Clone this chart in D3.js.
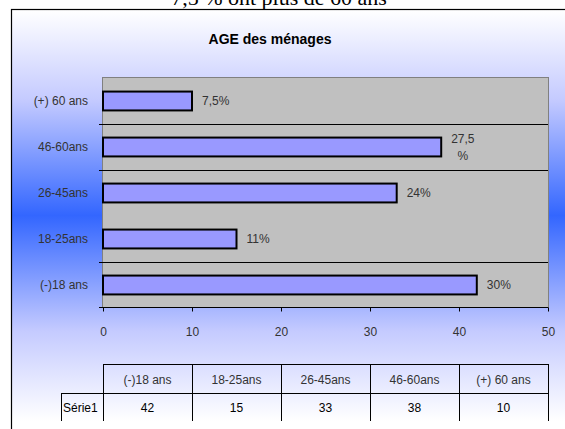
<!DOCTYPE html>
<html>
<head>
<meta charset="utf-8">
<script src="https://cdn.jsdelivr.net/npm/d3@7"></script>
<style>
  html, body { margin: 0; padding: 0; background: #fff; }
  svg { display: block; }
</style>
</head>
<body>
<svg id="chart" width="565" height="429"></svg>
<script>
// data (table order, bottom bar first)
const categories = ['(-)18 ans', '18-25ans', '26-45ans', '46-60ans', '(+) 60 ans'];
const values = [42, 15, 33, 38, 10];
const valueLabels = ['30%', '11%', '24%', '27,5\n%', '7,5%'];
const seriesName = 'Série1';
const xTicks = [0, 10, 20, 30, 40, 50];
// separators drawn above these categories
const gridAbove = ['(-)18 ans', '26-45ans', '46-60ans'];

const width = 565, height = 429;
const plot = { left: 103, right: 548, top: 78, bottom: 308 };
const table = { top: 364, mid: 393, bottom: 421, labelLeft: 61 };
const font = '"Liberation Sans", Arial, sans-serif';

const svg = d3.select('#chart');

const defs = svg.append('defs');
const grad = defs.append('linearGradient')
  .attr('id', 'bg')
  .attr('gradientUnits', 'userSpaceOnUse')
  .attr('x1', 0).attr('x2', 0)
  .attr('y1', 10).attr('y2', 421);
grad.append('stop').attr('offset', 0).attr('stop-color', '#ffffff');
grad.append('stop').attr('offset', 0.22).attr('stop-color', '#c4caff');
grad.append('stop').attr('offset', 0.5).attr('stop-color', '#3366ff');
grad.append('stop').attr('offset', 0.78).attr('stop-color', '#c4caff');
grad.append('stop').attr('offset', 1).attr('stop-color', '#ffffff');

// heading above the chart (cut by the frame, as in the original)
svg.append('text')
  .attr('x', 279).attr('y', 5)
  .attr('text-anchor', 'middle')
  .style('font-family', '"Liberation Serif", "Times New Roman", serif')
  .style('font-size', '22px')
  .attr('fill', '#000')
  .text('7,5 % ont plus de 60 ans');

// chart frame
svg.append('rect')
  .attr('x', 11.5).attr('y', 9.5)
  .attr('width', 560).attr('height', 430)
  .attr('fill', 'url(#bg)')
  .attr('stroke', '#000')
  .attr('stroke-width', 1.2);

svg.append('text')
  .attr('x', 270).attr('y', 44)
  .attr('text-anchor', 'middle')
  .style('font-family', font)
  .style('font-size', '14px')
  .style('font-weight', 'bold')
  .attr('fill', '#000')
  .text('AGE des ménages');

const x = d3.scaleLinear()
  .domain([0, 50])
  .range([plot.left, plot.right]);

const y = d3.scaleBand()
  .domain(categories.slice().reverse())
  .range([plot.top, plot.bottom])
  .paddingInner(0.59)
  .paddingOuter(0.295);

// plot area
svg.append('rect')
  .attr('x', plot.left - 0.5).attr('y', plot.top - 0.5)
  .attr('width', plot.right - plot.left + 1)
  .attr('height', plot.bottom - plot.top)
  .attr('fill', '#c0c0c0')
  .attr('stroke', '#808080')
  .attr('stroke-width', 1);

// category separators
svg.append('g')
  .selectAll('line')
  .data(gridAbove)
  .join('line')
  .attr('x1', plot.left - 4).attr('x2', plot.right)
  .attr('y1', d => Math.round(y(d) - y.step() * y.paddingInner() / 2) + 0.5)
  .attr('y2', d => Math.round(y(d) - y.step() * y.paddingInner() / 2) + 0.5)
  .attr('stroke', '#000')
  .attr('stroke-width', 1);

// bars
svg.append('g')
  .selectAll('rect')
  .data(values)
  .join('rect')
  .attr('x', x(0))
  .attr('y', (d, i) => y(categories[i]))
  .attr('width', d => x(d) - x(0))
  .attr('height', y.bandwidth())
  .attr('fill', '#9999ff')
  .attr('stroke', '#000')
  .attr('stroke-width', 2);

// value labels
const labels = svg.append('g')
  .style('font-family', font)
  .style('font-size', '12px')
  .attr('fill', '#333');

values.forEach((v, i) => {
  const lines = valueLabels[i].split('\n');
  const cy = y(categories[i]) + y.bandwidth() / 2;
  const t = labels.append('text').attr('text-anchor', 'middle');
  const spans = lines.map((l, k) => t.append('tspan')
    .attr('dy', k === 0 ? (-(lines.length - 1) * 8.5) + 'px' : '17px')
    .attr('dominant-baseline', 'central')
    .text(l));
  const w = d3.max(spans, s => s.node().getComputedTextLength());
  spans.forEach(s => s.attr('x', x(v) + 10 + w / 2));
  t.attr('y', cy);
});

// y axis labels
svg.append('g')
  .style('font-family', font)
  .style('font-size', '12px')
  .attr('fill', '#333')
  .selectAll('text')
  .data(categories)
  .join('text')
  .attr('x', 88)
  .attr('y', d => y(d) + y.bandwidth() / 2)
  .attr('dy', '0.35em')
  .attr('text-anchor', 'end')
  .text(d => d);

// x axis
const xAxis = svg.append('g')
  .attr('transform', `translate(0,${plot.bottom - 0.5})`)
  .call(d3.axisBottom(x).tickValues(xTicks).tickSize(4).tickPadding(16).tickSizeOuter(0));
xAxis.select('.domain').attr('stroke', '#000').attr('d', `M${plot.left - 4},0H${plot.right}`);
xAxis.selectAll('.tick line').attr('stroke', '#000');
xAxis.selectAll('.tick text')
  .style('font-family', font)
  .style('font-size', '12px')
  .attr('fill', '#333');

// data table
const col = d3.scaleBand()
  .domain(categories)
  .range([plot.left, plot.right]);

const tbl = svg.append('g')
  .attr('stroke', '#000')
  .attr('stroke-width', 1);
tbl.append('line')
  .attr('x1', plot.left).attr('x2', plot.right)
  .attr('y1', table.top + 0.5).attr('y2', table.top + 0.5);
tbl.append('line')
  .attr('x1', table.labelLeft).attr('x2', plot.right)
  .attr('y1', table.mid + 0.5).attr('y2', table.mid + 0.5);
tbl.append('line')
  .attr('x1', table.labelLeft + 0.5).attr('x2', table.labelLeft + 0.5)
  .attr('y1', table.mid).attr('y2', table.bottom);
tbl.selectAll('line.v')
  .data(categories.concat(['end']))
  .join('line')
  .attr('class', 'v')
  .attr('x1', d => Math.round(d === 'end' ? plot.right : col(d)) + 0.5)
  .attr('x2', d => Math.round(d === 'end' ? plot.right : col(d)) + 0.5)
  .attr('y1', table.top)
  .attr('y2', table.bottom);

const tt = svg.append('g')
  .style('font-family', font)
  .style('font-size', '12px');
tt.selectAll('text.h')
  .data(categories)
  .join('text')
  .attr('class', 'h')
  .attr('x', d => col(d) + col.bandwidth() / 2)
  .attr('y', (table.top + table.mid) / 2 + 1)
  .attr('dy', '0.35em')
  .attr('text-anchor', 'middle')
  .attr('fill', '#333')
  .text(d => d);
tt.selectAll('text.v')
  .data(values)
  .join('text')
  .attr('class', 'v')
  .attr('x', (d, i) => col(categories[i]) + col.bandwidth() / 2)
  .attr('y', table.mid + 15)
  .attr('dy', '0.35em')
  .attr('text-anchor', 'middle')
  .attr('fill', '#000')
  .text(d => d);
tt.append('text')
  .attr('x', table.labelLeft + 2)
  .attr('y', table.mid + 15)
  .attr('dy', '0.35em')
  .attr('fill', '#000')
  .text(seriesName);
</script>
</body>
</html>
